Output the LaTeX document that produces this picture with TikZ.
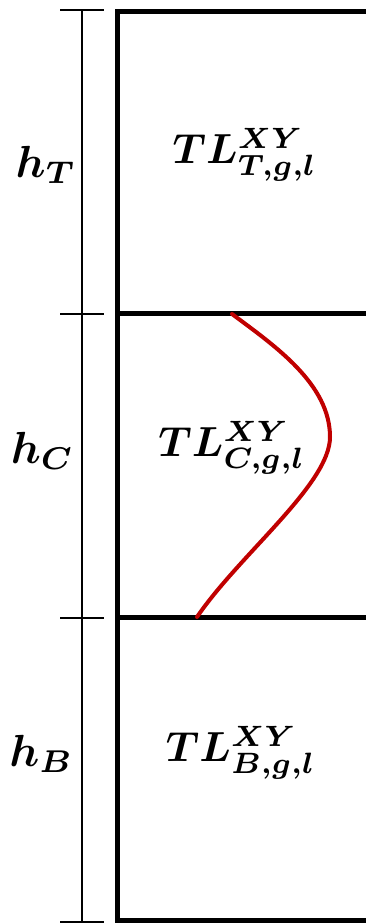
\documentclass[tikz,border=0pt]{standalone}
\usepackage{bm}
\usepackage{graphicx}
\newcommand{\biglab}[2][4.2]{\scalebox{#1}{$\bm{#2}$}}
\begin{document}
\begin{tikzpicture}[x=1pt,y=1pt,
  wall/.style={line width=5pt},
  dim/.style={line width=1.1pt},
  lab/.style={inner sep=0pt},
  curve/.style={line width=4pt, color=tlred, line cap=round}]
\definecolor{tlred}{RGB}{192,0,0}
\useasboundingbox (0,0) rectangle (365,924);
% dimension line
\coordinate (d0) at (82,914);
\coordinate (d1) at (82,610);
\coordinate (d2) at (82,306);
\coordinate (d3) at (82,2);
\draw[dim] (d0) -- (d3);
\foreach \c in {d0,d1,d2,d3} \draw[dim] ([xshift=-22pt]\c) -- ([xshift=22pt]\c);
% walls
\coordinate (tl) at (117.5,912);
\coordinate (bl) at (117.5,3);
\coordinate (m1) at (117.5,610);
\coordinate (m2) at (117.5,306);
\draw[wall] (370,912) -- (tl) -- (bl) -- (370,3);
\draw[wall] (m1) -- (370,610);
\draw[wall] (m2) -- (370,306);
% red profile
\coordinate (ctop) at (232,610);
\coordinate (cpeak) at (330,487);
\coordinate (cbot) at (197,307);
\draw[curve] (ctop) .. controls (275,578) and (330,540) .. (cpeak)
  .. controls (330,440) and (240,370) .. (cbot);
% labels
\node[lab] (hT) at (46,759) {\biglab[4.5]{h_T}};
\node[lab] (hC) at (42.5,473) {\biglab[4.5]{h_C}};
\node[lab] (hB) at (41.5,170) {\biglab[4.5]{h_B}};
\node[lab] (TLT) at (245,769) {\biglab{TL^{XY}_{T,g,l}}};
\node[lab] (TLC) at (232,476) {\biglab{TL^{XY}_{C,g,l}}};
\node[lab] (TLB) at (241,171) {\biglab{TL^{XY}_{B,g,l}}};
\end{tikzpicture}
\end{document}
